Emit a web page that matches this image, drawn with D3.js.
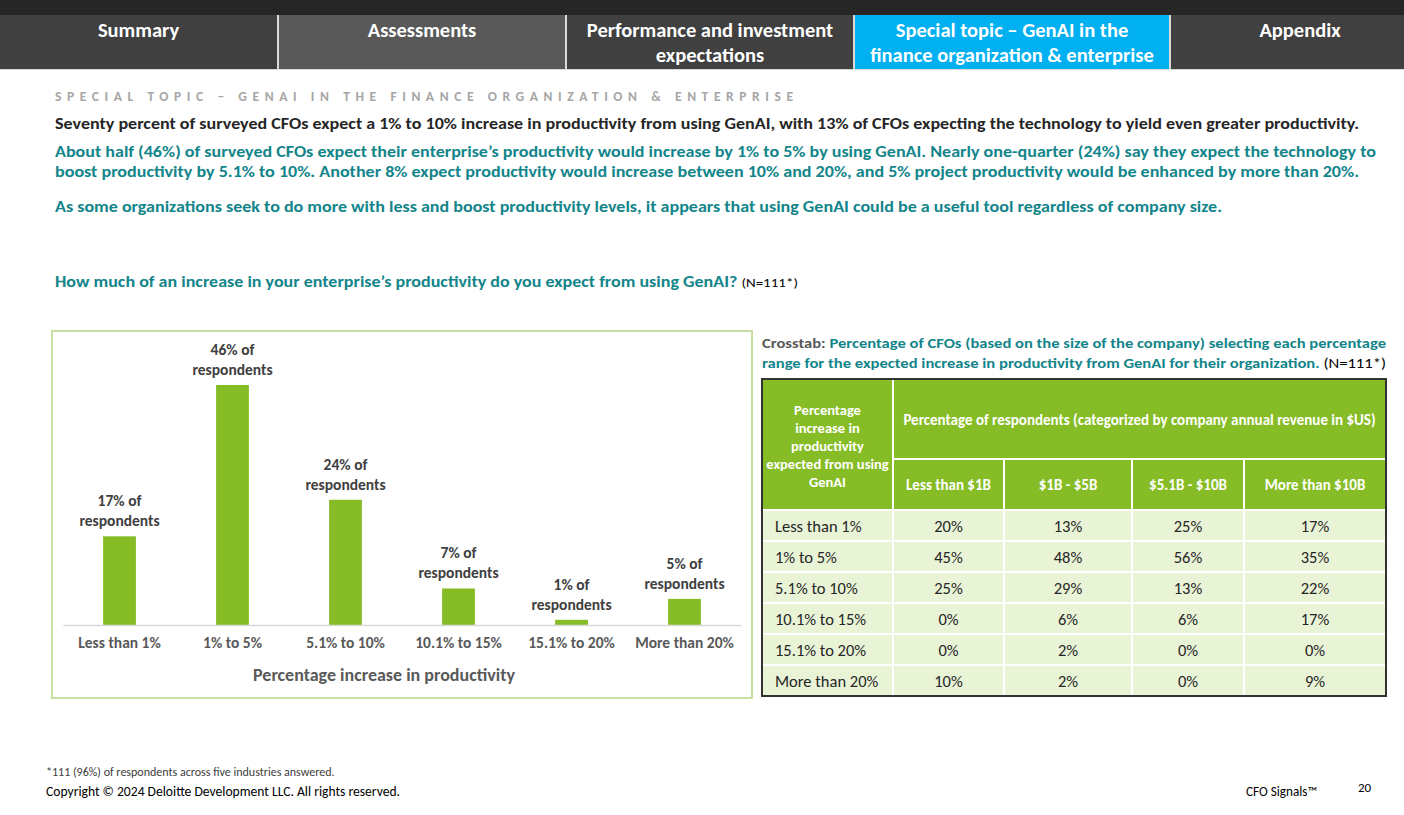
<!DOCTYPE html>
<html>
<head>
<meta charset="utf-8">
<script src="https://cdn.jsdelivr.net/npm/d3@7"></script>
<style>
  body { margin: 0; background: #fff; }
  svg { display: block; font-family: Carlito, Calibri, Lato, sans-serif; }
</style>
</head>
<body>
<svg id="page" width="1404" height="815"></svg>
<script>
// tabs across the top
const tabs = ["Summary", "Assessments", "Performance and investment|expectations",
              "Special topic – GenAI in the|finance organization & enterprise", "Appendix"];

// bar chart
const categories = ["Less than 1%", "1% to 5%", "5.1% to 10%", "10.1% to 15%", "15.1% to 20%", "More than 20%"];
const shares = [17, 46, 24, 7, 1, 5]; // % of respondents

// crosstab, one array per revenue band (rows follow categories)
const revenueBands = ["Less than $1B", "$1B - $5B", "$5.1B - $10B", "More than $10B"];
const lessThan1B = [20, 45, 25, 0, 0, 10];
const from1Bto5B = [13, 48, 29, 6, 2, 2];
const from5Bto10B = [25, 56, 13, 6, 0, 0];
const moreThan10B = [17, 35, 22, 17, 0, 9];

const teal = "#12858b";
const green = "#86bc25";
const dark = "#404040";

const svg = d3.select("#page");

// ---- header tabs ----
const tabEdges = [0, 278, 566, 854, 1170, 1404];
svg.append("rect").attr("x", 0).attr("y", 0).attr("width", 1404).attr("height", 15).attr("fill", "#262626");
svg.append("rect").attr("x", 0).attr("y", 15).attr("width", 1404).attr("height", 55).attr("fill", "#d9d9d9");

tabs.forEach((t, i) => {
    const x0 = tabEdges[i] + (i ? 1 : 0), x1 = tabEdges[i + 1] - (i < 4 ? 1 : 0);
    const fill = i === 3 ? "#00b0f0" : (i === 1 ? "#595959" : "#404040");
    svg.append("rect").attr("x", x0).attr("y", 15).attr("width", x1 - x0).attr("height", 54).attr("fill", fill);
    const lines = t.split("|");
    const cx = i === 4 ? 1300 : (x0 + x1) / 2;
    lines.forEach((l, j) => {
        svg.append("text").attr("x", cx).attr("y", 37 + j * 25)
            .attr("text-anchor", "middle").attr("fill", "#fff")
            .attr("font-size", 20.5).attr("font-weight", 700).text(l);
    });
});

// ---- intro text ----
function line(x, y, size, color, weight, str, len, adjust) {
    const t = svg.append("text").attr("x", x).attr("y", y)
        .attr("font-size", size).attr("fill", color).attr("font-weight", weight).text(str);
    if (len) t.attr("textLength", len).attr("lengthAdjust", adjust || "spacingAndGlyphs");
    return t;
}

line(55, 101, 13.5, "#a6a6a6", 700, "SPECIAL TOPIC – GENAI IN THE FINANCE ORGANIZATION & ENTERPRISE", 742, "spacing")
    .attr("letter-spacing", 4);
line(55, 129, 15.5, "#262626", 700, "Seventy percent of surveyed CFOs expect a 1% to 10% increase in productivity from using GenAI, with 13% of CFOs expecting the technology to yield even greater productivity.", 1304);
line(55, 157, 15.5, teal, 700, "About half (46%) of surveyed CFOs expect their enterprise’s productivity would increase by 1% to 5% by using GenAI. Nearly one-quarter (24%) say they expect the technology to", 1321);
line(55, 177, 15.5, teal, 700, "boost productivity by 5.1% to 10%. Another 8% expect productivity would increase between 10% and 20%, and 5% project productivity would be enhanced by more than 20%.", 1304);
line(55, 212, 15.5, teal, 700, "As some organizations seek to do more with less and boost productivity levels, it appears that using GenAI could be a useful tool regardless of company size.", 1167);

const q = line(55, 287, 15, teal, 700, null, 743);
q.append("tspan").text("How much of an increase in your enterprise’s productivity do you expect from using GenAI? ");
q.append("tspan").attr("fill", "#000").attr("font-weight", 400).attr("font-size", 12.5).text("(N=111*)");

// ---- bar chart ----
svg.append("rect").attr("x", 52).attr("y", 331).attr("width", 700).attr("height", 367)
    .attr("fill", "none").attr("stroke", "#c5e0a0").attr("stroke-width", 2);

const x = d3.scaleBand().domain(categories).range([63, 741]).paddingInner(0.71).paddingOuter(0.355);
const y = d3.scaleLinear().domain([0, 55]).range([625, 338]);

const chart = svg.append("g");
chart.selectAll(".bar").data(categories).join("rect")
    .attr("class", "bar")
    .attr("x", d => x(d)).attr("width", x.bandwidth())
    .attr("y", (d, i) => y(shares[i])).attr("height", (d, i) => y(0) - y(shares[i]))
    .attr("fill", green);

const xAxis = chart.append("g").attr("transform", "translate(0,625)")
    .call(d3.axisBottom(x).tickSize(0).tickPadding(12).tickSizeOuter(0));
xAxis.select(".domain").attr("stroke", "#d9d9d9").attr("stroke-width", 1.5);
xAxis.selectAll("text").attr("font-family", "Carlito, Calibri, Lato, sans-serif")
    .attr("font-size", 15.5).attr("font-weight", 700).attr("fill", "#595959");

const lbl = chart.selectAll(".lbl").data(categories).join("text")
    .attr("class", "lbl").attr("text-anchor", "middle")
    .attr("font-size", 15.5).attr("font-weight", 700).attr("fill", dark);
lbl.append("tspan").attr("x", d => x(d) + x.bandwidth() / 2).attr("y", (d, i) => y(shares[i]) - 30)
    .text((d, i) => shares[i] + "% of");
lbl.append("tspan").attr("x", d => x(d) + x.bandwidth() / 2).attr("y", (d, i) => y(shares[i]) - 10)
    .text("respondents");

chart.append("text").attr("x", 384).attr("y", 681).attr("text-anchor", "middle")
    .attr("font-size", 18).attr("font-weight", 700).attr("fill", "#595959")
    .text("Percentage increase in productivity");

// ---- crosstab ----
const cap1 = line(762, 348, 14, "#595959", 700, null, 624);
cap1.append("tspan").text("Crosstab: ");
cap1.append("tspan").attr("fill", teal).text("Percentage of CFOs (based on the size of the company) selecting each percentage");
const cap2 = line(762, 368, 14, teal, 700, null, 624);
cap2.append("tspan").text("range for the expected increase in productivity from GenAI for their organization. ");
cap2.append("tspan").attr("fill", "#000").attr("font-weight", 400).text("(N=111*)");

const colEdges = [762, 893, 1004, 1132, 1244, 1386];
const tableTop = 379, head1 = 459, head2 = 510, tableBottom = 696;
const rowY = d3.scaleBand().domain(categories).range([head2, tableBottom]);
const columns = [lessThan1B, from1Bto5B, from5Bto10B, moreThan10B];

const tbl = svg.append("g");
tbl.append("rect").attr("x", colEdges[0]).attr("y", tableTop)
    .attr("width", colEdges[5] - colEdges[0]).attr("height", head2 - tableTop).attr("fill", green);
tbl.append("rect").attr("x", colEdges[0]).attr("y", head2)
    .attr("width", colEdges[5] - colEdges[0]).attr("height", tableBottom - head2).attr("fill", "#e9f3d6");

// white grid lines
categories.slice(1).forEach(c => {
    tbl.append("line").attr("x1", colEdges[0]).attr("x2", colEdges[5])
        .attr("y1", rowY(c)).attr("y2", rowY(c)).attr("stroke", "#fff").attr("stroke-width", 2);
});
tbl.append("line").attr("x1", colEdges[1]).attr("x2", colEdges[5]).attr("y1", head1).attr("y2", head1)
    .attr("stroke", "#fff").attr("stroke-width", 2);
tbl.append("line").attr("x1", colEdges[0]).attr("x2", colEdges[5]).attr("y1", head2).attr("y2", head2)
    .attr("stroke", "#fff").attr("stroke-width", 2);
colEdges.slice(1, 5).forEach((cx, i) => {
    tbl.append("line").attr("x1", cx).attr("x2", cx)
        .attr("y1", i === 0 ? tableTop : head1).attr("y2", tableBottom)
        .attr("stroke", "#fff").attr("stroke-width", 2);
});

// header text
const h0 = tbl.append("text").attr("text-anchor", "middle").attr("fill", "#fff")
    .attr("font-size", 14.5).attr("font-weight", 700);
["Percentage", "increase in", "productivity", "expected from using", "GenAI"].forEach((s, i) => {
    h0.append("tspan").attr("x", (colEdges[0] + colEdges[1]) / 2).attr("y", 415 + i * 18).text(s);
});
tbl.append("text").attr("x", (colEdges[1] + colEdges[5]) / 2).attr("y", 425)
    .attr("text-anchor", "middle").attr("fill", "#fff").attr("font-size", 15).attr("font-weight", 700)
    .text("Percentage of respondents (categorized by company annual revenue in $US)");
revenueBands.forEach((b, i) => {
    tbl.append("text").attr("x", (colEdges[i + 1] + colEdges[i + 2]) / 2).attr("y", 490)
        .attr("text-anchor", "middle").attr("fill", "#fff").attr("font-size", 15).attr("font-weight", 700)
        .text(b);
});

// body
tbl.selectAll(".rowlbl").data(categories).join("text")
    .attr("class", "rowlbl").attr("x", 775).attr("y", d => rowY(d) + rowY.bandwidth() / 2 + 6)
    .attr("font-size", 16.5).attr("fill", "#262626").text(d => d);
columns.forEach((col, i) => {
    tbl.selectAll(".c" + i).data(col).join("text")
        .attr("class", "c" + i)
        .attr("x", (colEdges[i + 1] + colEdges[i + 2]) / 2)
        .attr("y", (d, j) => rowY(categories[j]) + rowY.bandwidth() / 2 + 6)
        .attr("text-anchor", "middle").attr("font-size", 16.5).attr("fill", "#262626")
        .text(d => d + "%");
});

tbl.append("rect").attr("x", colEdges[0]).attr("y", tableTop)
    .attr("width", colEdges[5] - colEdges[0]).attr("height", tableBottom - tableTop)
    .attr("fill", "none").attr("stroke", "#333", ).attr("stroke-width", 2);

// ---- footer ----
line(46, 776, 12, "#404040", 400, "*111 (96%) of respondents across five industries answered.");
line(46, 796, 13.6, "#000", 400, "Copyright © 2024 Deloitte Development LLC. All rights reserved.");
line(1246, 796, 13.2, "#000", 400, "CFO Signals™");
line(1358, 792, 13, "#000", 400, "20");
</script>
</body>
</html>
